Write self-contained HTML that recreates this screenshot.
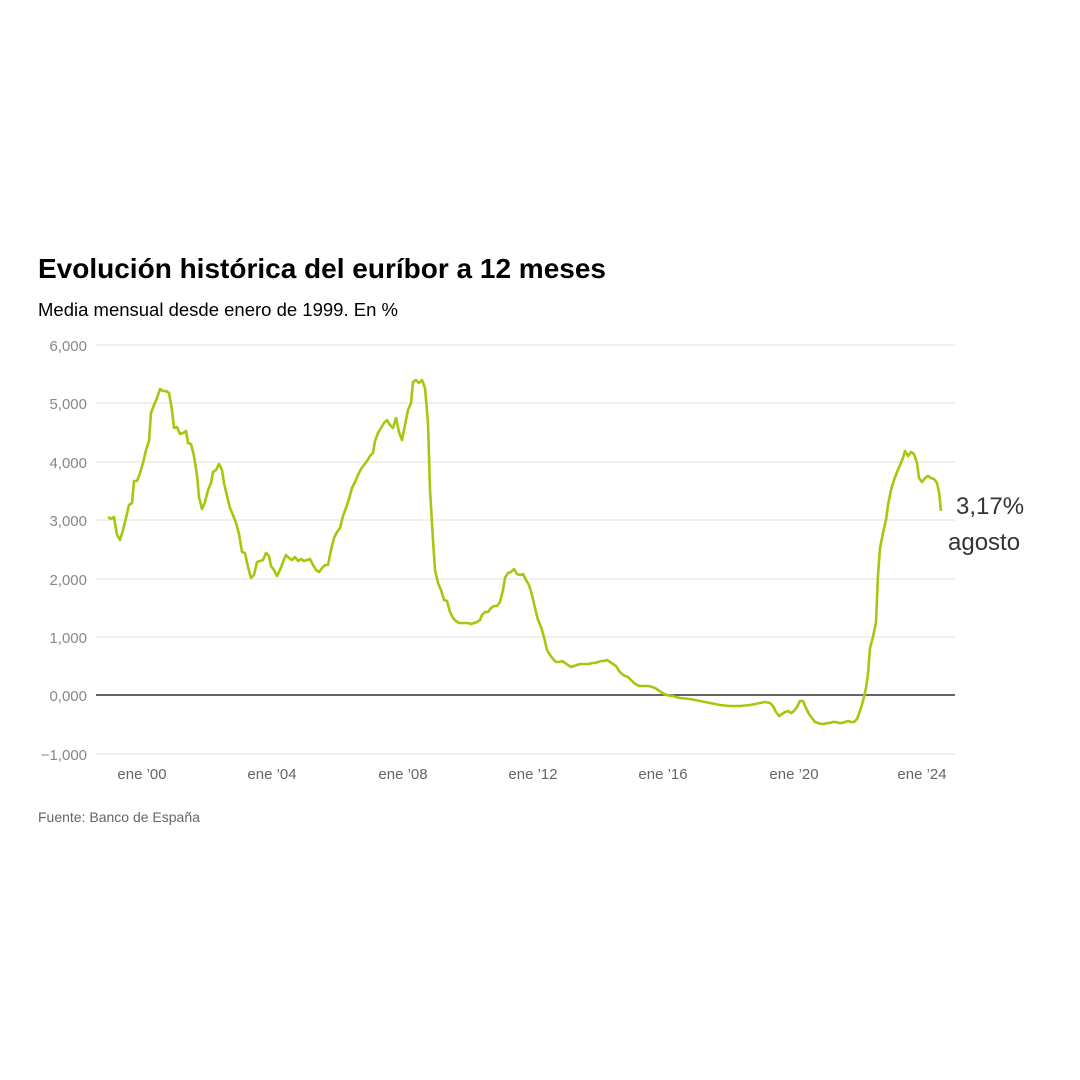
<!DOCTYPE html>
<html><head><meta charset="utf-8"><style>
body{margin:0;background:#fff;width:1080px;height:1080px;overflow:hidden}
svg{display:block}
</style></head><body>
<svg width="1080" height="1080" xmlns="http://www.w3.org/2000/svg" font-family="Liberation Sans, sans-serif">
<text x="38" y="278" font-size="28" font-weight="bold" fill="#000">Evolución histórica del euríbor a 12 meses</text>
<text x="38" y="316" font-size="18.5" fill="#000">Media mensual desde enero de 1999. En %</text>
<g stroke="#e2e2e2" stroke-width="1">
<line x1="96" x2="955" y1="345" y2="345"/><line x1="96" x2="955" y1="403" y2="403"/>
<line x1="96" x2="955" y1="462" y2="462"/><line x1="96" x2="955" y1="520" y2="520"/>
<line x1="96" x2="955" y1="579" y2="579"/><line x1="96" x2="955" y1="637" y2="637"/>
<line x1="96" x2="955" y1="754" y2="754"/>
</g>
<line x1="96" x2="955" y1="695" y2="695" stroke="#333" stroke-width="1.5"/>
<g font-size="15" fill="#888" text-anchor="end">
<text x="87" y="351">6,000</text><text x="87" y="409">5,000</text><text x="87" y="468">4,000</text>
<text x="87" y="526">3,000</text><text x="87" y="585">2,000</text><text x="87" y="643">1,000</text>
<text x="87" y="701">0,000</text><text x="87" y="760">−1,000</text>
</g>
<g font-size="15" fill="#666" text-anchor="middle">
<text x="142" y="779">ene ’00</text><text x="272" y="779">ene ’04</text><text x="403" y="779">ene ’08</text>
<text x="533" y="779">ene ’12</text><text x="663" y="779">ene ’16</text><text x="794" y="779">ene ’20</text>
<text x="922" y="779">ene ’24</text>
</g>
<polyline fill="none" stroke="#a3c90f" stroke-width="2.6" stroke-linejoin="round" points="108,517 111,519 114,517 117,535 120,540 123,530 126,518 129,505 132,503 134,481 137,481 140,473 143,463 146,450 149,441 151,413 154,405 157,398 160,389 163,391 166,391 169,393 172,410 174,428 177,427 180,434 183,433 186,431 188,443 191,444 194,456 197,475 199,497 202,509 205,502 208,490 211,483 213,472 216,470 219,464 222,470 224,483 227,496 230,508 233,515 236,523 239,534 242,552 245,553 248,567 251,578 254,575 257,562 260,561 263,560 266,553 269,556 271,566 274,570 277,576 280,570 283,562 286,555 289,558 292,560 295,557 298,561 301,559 304,561 307,560 310,559 313,565 316,570 319,572 322,568 325,565 328,565 331,550 334,538 337,532 340,528 343,516 346,508 349,499 352,488 355,482 358,475 361,469 364,465 367,461 370,456 373,453 375,441 378,433 381,428 384,423 387,420 390,425 393,428 396,418 399,432 402,440 405,425 408,410 411,403 413,382 416,380 419,383 422,380 425,388 428,423 430,490 433,540 435,570 438,583 441,590 444,600 447,601 450,612 453,618 456,621 459,623 462,623 465,623 468,623 471,624 474,623 477,622 480,620 482,615 485,612 488,612 491,608 494,606 497,606 500,602 503,590 505,578 508,573 511,572 514,569 517,574 520,575 523,574 526,580 529,585 532,595 535,608 538,620 541,627 544,637 547,650 550,655 553,659 556,662 559,662 562,661 565,663 568,665 571,667 574,666 577,665 580,664 583,664 586,664 589,664 592,663 595,663 598,662 601,661 604,661 607,660 610,662 613,664 616,666 619,671 622,674 625,676 628,677 631,680 634,683 637,685 640,686 643,686 646,686 649,686 652,687 655,688 658,690 661,692 664,694 667,695 670,696 673,696 676,697 680,698 690,699 700,701 710,703 720,705 730,706 740,706 750,705 760,703 765,702 770,703 773,706 776,712 779,716 782,714 785,712 788,711 791,713 794,711 797,707 800,701 803,701 806,708 809,714 812,718 815,722 818,723 821,724 824,724 827,723 830,723 833,722 836,722 839,723 842,723 845,722 848,721 851,722 854,722 857,719 860,711 863,701 866,688 868,674 870,648 873,637 876,622 878,575 880,548 883,533 886,520 888,505 891,490 894,480 897,472 900,465 903,458 905,451 908,456 911,452 914,454 917,463 919,478 922,482 925,478 928,476 931,478 934,479 937,483 939,492 941,511"/>
<text x="956" y="514" font-size="24" fill="#333">3,17%</text>
<text x="948" y="550" font-size="24" fill="#333">agosto</text>
<text x="38" y="822" font-size="14" fill="#666">Fuente: Banco de España</text>
</svg>
</body></html>
